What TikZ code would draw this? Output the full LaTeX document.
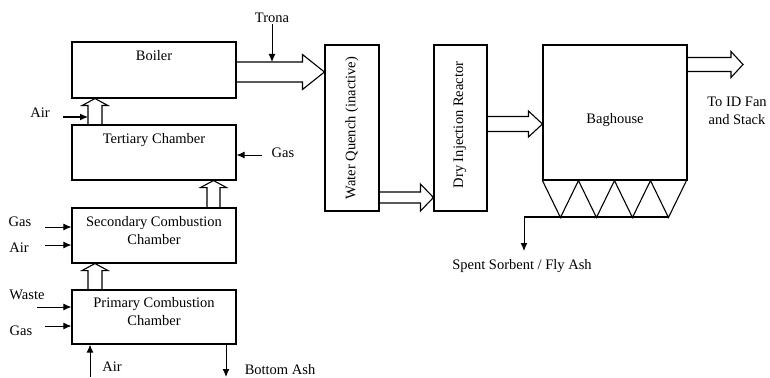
\documentclass[tikz,border=0pt]{standalone}
\usepackage{fontspec}
\setmainfont{Liberation Serif}
\usetikzlibrary{arrows.meta,calc,positioning}
\tikzset{
  unit/.style={draw,line width=1.1pt,inner sep=0pt},
  fat/.style={draw,line width=1.1pt,line join=miter},
  feed/.style={line width=1pt,-{Latex[length=8pt,width=7pt]}},
  tag/.style={inner sep=1pt,align=center},
}
% block arrows: start point, tip point, half shaft, half head, head length
\newcommand{\fatright}[5]{%
  \draw[fat] let \p1=#1, \p2=#2 in
    (\x1,\y1+#3) -- (\x2-#5,\y1+#3) -- (\x2-#5,\y1+#4) -- (\x2,\y1)
    -- (\x2-#5,\y1-#4) -- (\x2-#5,\y1-#3) -- (\x1,\y1-#3);}
\newcommand{\fatup}[5]{%
  \draw[fat] let \p1=#1, \p2=#2 in
    (\x1-#3,\y1) -- (\x1-#3,\y2-#5) -- (\x1-#4,\y2-#5) -- (\x1,\y2)
    -- (\x1+#4,\y2-#5) -- (\x1+#3,\y2-#5) -- (\x1+#3,\y1);}

\begin{document}
\begin{tikzpicture}[x=1pt,y=-1pt,font=\fontsize{14.5}{18}\selectfont]
  \useasboundingbox (0,0) rectangle (770,377);
  % units
  \node[unit,minimum width=164pt,minimum height=56pt] (boiler) at (154,70) {};
  \node[unit,minimum width=164pt,minimum height=55pt] (tertiary) at (154,152.5) {};
  \node[unit,minimum width=164pt,minimum height=55pt] (secondary) at (154,235.5) {};
  \node[unit,minimum width=164pt,minimum height=54pt] (primary) at (154,317) {};
  \node[unit,minimum width=54pt,minimum height=166pt] (quench) at (352,128) {};
  \node[unit,minimum width=53pt,minimum height=166pt] (dryinj) at (460.5,128) {};
  \node[unit,minimum width=144pt,minimum height=135pt] (baghouse) at (615,112.5) {};
  \node[tag] (boilertxt) at (154,56) {Boiler};
  \node[tag] (tertiarytxt) at (154,140) {Tertiary Chamber};
  \node[tag] (secondarytxt) at (154,231) {Secondary Combustion\\Chamber};
  \node[tag] (primarytxt) at (154,312) {Primary Combustion\\Chamber};
  \node[tag,rotate=90] (quenchtxt) at (352,128) {Water Quench (inactive)};
  \node[tag,rotate=90] (dryinjtxt) at (460,125) {Dry Injection Reactor};
  \node[tag] (baghousetxt) at (615,120) {Baghouse};
  % hopper
  \draw[fat] (baghouse.south west) \foreach \i in {1,...,4} { -- ++(18,37) -- ++(18,-37)};
  \coordinate (ashout) at (524,217);
  \draw[fat] (ashout) -- (669,217);
  % gas path
  \coordinate (upA) at (95,0);
  \coordinate (upB) at (213.5,0);
  \coordinate (flue1) at (0,72);
  \coordinate (flue2) at (0,197.5);
  \coordinate (flue3) at (0,124);
  \coordinate (flue4) at (0,64.5);
  \fatup{(tertiary.north -| upA)}{(boiler.south -| upA)}{7pt}{13pt}{7pt}
  \fatup{(secondary.north -| upB)}{(tertiary.south -| upB)}{6.5pt}{13pt}{7pt}
  \fatup{(primary.north -| upA)}{(secondary.south -| upA)}{7pt}{13pt}{7pt}
  \fatright{(boiler.east |- flue1)}{(quench.west |- flue1)}{10pt}{17.5pt}{22pt}
  \fatright{(quench.east |- flue2)}{(dryinj.west |- flue2)}{5.5pt}{13.5pt}{13pt}
  \fatright{(dryinj.east |- flue3)}{(baghouse.west |- flue3)}{7.5pt}{13pt}{14pt}
  \fatright{(baghouse.east |- flue4)}{(743,64.5)}{7pt}{13pt}{12pt}
  % feeds and outlets
  \node[tag] (trona) at (272,18) {Trona};
  \draw[feed] (trona.south) -- ($(trona.south |- flue1)+(0,-10)$);
  \node[tag] (airT) at (40,113) {Air};
  \coordinate (airTin) at (63,117);
  \draw[feed] (airTin) -- ($(airTin -| upA)+(-7,0)$);
  \node[tag] (gasT) at (283,153) {Gas};
  \coordinate (gasTin) at (262,155);
  \draw[feed] (gasTin) -- (gasTin -| tertiary.east);
  \node[tag] (gasS) at (20,222) {Gas};
  \coordinate (gasSin) at (45,227);
  \draw[feed] (gasSin) -- (gasSin -| secondary.west);
  \node[tag] (airS) at (19,248) {Air};
  \coordinate (airSin) at (45,245);
  \draw[feed] (airSin) -- (airSin -| secondary.west);
  \node[tag] (waste) at (27,295) {Waste};
  \coordinate (wastein) at (37,307);
  \draw[feed] (wastein) -- (wastein -| primary.west);
  \node[tag] (gasP) at (21,331) {Gas};
  \coordinate (gasPin) at (45,326);
  \draw[feed] (gasPin) -- (gasPin -| primary.west);
  \node[tag] (airP) at (112,367) {Air};
  \coordinate (airPin) at (90,377);
  \draw[feed] (airPin) -- (airPin |- primary.south);
  \node[tag] (botash) at (280,370) {Bottom Ash};
  \coordinate (botashend) at (226,377);
  \draw[feed] (botashend |- primary.south) -- (botashend);
  \node[tag] (spent) at (522,266) {Spent Sorbent / Fly Ash};
  \coordinate (ashend) at (524,251);
  \draw[feed] (ashout) -- (ashend);
  \node[tag] (stack) at (737,111) {To ID Fan\\and Stack};
\end{tikzpicture}
\end{document}
